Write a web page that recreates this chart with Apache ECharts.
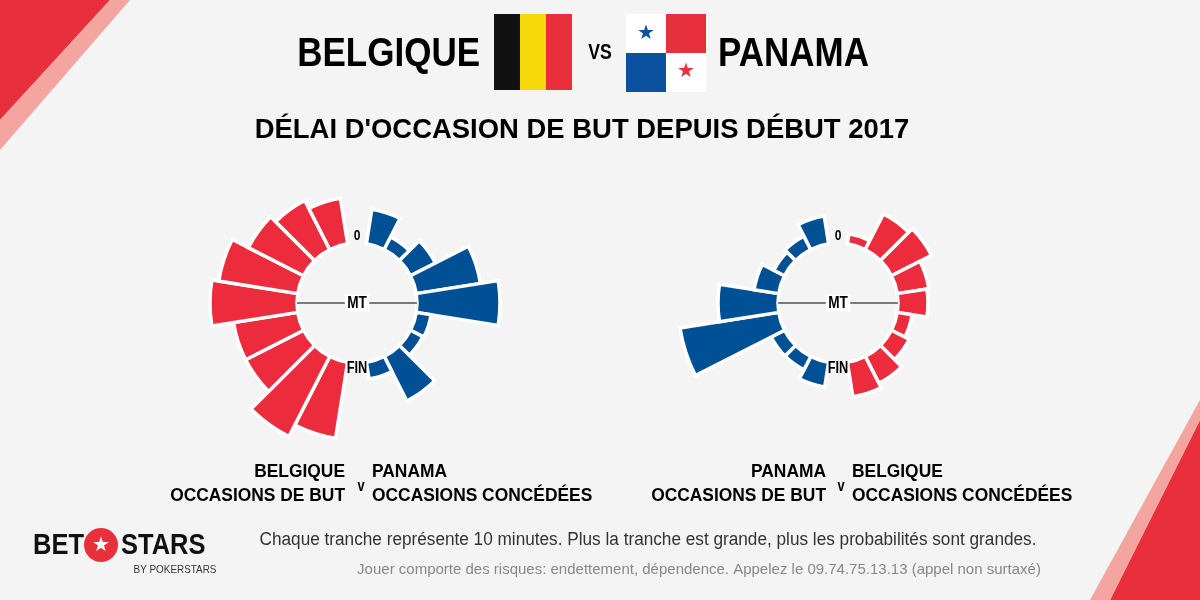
<!DOCTYPE html><html><head><meta charset="utf-8">
<script src="https://cdn.jsdelivr.net/npm/echarts@6/dist/echarts.min.js"></script>
<style>html,body{margin:0;padding:0}#c{width:1200px;height:600px}</style></head><body><div id="c"></div>
<script>
// slices of 10 minutes, from 0 to FIN; values = bar length beyond inner circle
const slices = ['0-10','10-20','20-30','30-40','40-50','50-60','60-70','70-80','80-90'];
const belOccasions   = [46, 55, 62, 80, 87, 65, 65, 90, 77];
const panConcedees   = [35, 14, 28, 65, 83, 15, 14, 50, 17];
const panOccasions   = [28, 15, 12, 25, 60, 100, 15, 15, 25];
const belConcedees   = [10, 40, 45, 32, 30, 15, 20, 30, 35];

const cats = [];
for (let i=0;i<20;i++) cats.push('c'+i);
function build(rightVals, leftVals){
  const right = [null].concat(rightVals, new Array(10).fill(null));
  const left = new Array(11).fill(null).concat(leftVals.slice().reverse());
  return [right,left];
}
const [L_right, L_left] = build(panConcedees, belOccasions);
const [R_right, R_left] = build(belConcedees, panOccasions);
const RED='#ec2c3d', BLUE='#005096';
const chart = echarts.init(document.getElementById('c'));
const polar = (cx)=>({center:[cx,303], radius:[60,210]});
const ang = (i)=>({polarIndex:i,type:'category',data:cats,startAngle:99,clockwise:true,axisLine:{show:false},axisTick:{show:false},axisLabel:{show:false},splitLine:{show:false}});
const rad = (i)=>({polarIndex:i,min:0,max:150,axisLine:{show:false},axisTick:{show:false},axisLabel:{show:false},splitLine:{show:false}});
const bar=(pi,data,color)=>({type:'bar',coordinateSystem:'polar',polarIndex:pi,data,stack:'s'+pi,barCategoryGap:'0%',itemStyle:{color,borderColor:'#fff',borderWidth:3.5},silent:true});
const F='"Liberation Sans"';
function txt(x,y,text,size,align,opts={}){
  return {type:'text',x,y,z:100,scaleX:opts.sx||0.8,style:Object.assign({text,fill:'#000',font:(opts.bold===false?'':'bold ')+size+'px '+F,align,verticalAlign:'middle'},opts.style||{})};
}
function hub(cx){
  return [
    {type:'line',z:100,shape:{x1:cx-60,y1:303,x2:cx+60,y2:303},style:{stroke:'#000',lineWidth:1.2}},
    txt(cx,303,'MT',17,'center',{style:{backgroundColor:'#fff',padding:[0,3]}}),
    txt(cx,236,'0',15,'center'),
    txt(cx,369,'FIN',16,'center')
  ];
}
chart.setOption({
  backgroundColor:'#f4f4f5',
  animation:false,
  polar:[polar(357),polar(838)],
  angleAxis:[ang(0),ang(1)],
  radiusAxis:[rad(0),rad(1)],
  series:[bar(0,L_right,BLUE),bar(0,L_left,RED),bar(1,R_right,RED),bar(1,R_left,BLUE)],
  graphic:[
    {type:'polygon',z:-1,shape:{points:[[0,0],[110,0],[0,120]]},style:{fill:'#e8303c'}},
    {type:'polygon',z:-1,shape:{points:[[110,0],[130,0],[0,150],[0,120]]},style:{fill:'#f4a5a0'}},
    {type:'polygon',z:-1,shape:{points:[[1200,420],[1200,600],[1110,600]]},style:{fill:'#e8303c'}},
    {type:'polygon',z:-1,shape:{points:[[1200,400],[1200,420],[1110,600],[1090,600]]},style:{fill:'#f4a5a0'}},
    txt(480,55,'BELGIQUE',40,'right',{sx:0.875}),
    {type:'rect',shape:{x:494,y:14,width:26,height:76},style:{fill:'#111'}},
    {type:'rect',shape:{x:520,y:14,width:26,height:76},style:{fill:'#f5d90a'}},
    {type:'rect',shape:{x:546,y:14,width:26,height:76},style:{fill:'#e8303c'}},
    txt(600,53,'VS',22,'center'),
    {type:'rect',shape:{x:626,y:14,width:80,height:78},style:{fill:'#fff'}},
    {type:'rect',shape:{x:666,y:14,width:40,height:39},style:{fill:'#e8303c'}},
    {type:'rect',shape:{x:626,y:53,width:40,height:39},style:{fill:'#0a52a0'}},
    {type:'text',x:646,y:34,style:{text:'★',fill:'#0a52a0',font:'20px "DejaVu Sans"',align:'center',verticalAlign:'middle'}},
    {type:'text',x:686,y:72,style:{text:'★',fill:'#e8303c',font:'20px "DejaVu Sans"',align:'center',verticalAlign:'middle'}},
    txt(718,55,'PANAMA',40,'left',{sx:0.875}),
    txt(582,130,"DÉLAI D'OCCASION DE BUT DEPUIS DÉBUT 2017",28,'center',{sx:0.98}),
    ...hub(357),...hub(838),
    txt(345,484,'BELGIQUE\nOCCASIONS DE BUT',19,'right',{sx:0.915,style:{lineHeight:24}}),
    txt(361,487,'v',16,'center'),
    txt(372,484,'PANAMA\nOCCASIONS CONCÉDÉES',19,'left',{sx:0.915,style:{lineHeight:24}}),
    txt(826,484,'PANAMA\nOCCASIONS DE BUT',19,'right',{sx:0.915,style:{lineHeight:24}}),
    txt(841,487,'v',16,'center'),
    txt(852,484,'BELGIQUE\nOCCASIONS CONCÉDÉES',19,'left',{sx:0.915,style:{lineHeight:24}}),
    txt(648,540,'Chaque tranche représente 10 minutes. Plus la tranche est grande, plus les probabilités sont grandes.',18,'center',{bold:false,sx:0.955,style:{fill:'#333'}}),
    txt(699,570,'Jouer comporte des risques: endettement, dépendence. Appelez le 09.74.75.13.13 (appel non surtaxé)',15,'center',{bold:false,sx:1.0,style:{fill:'#888'}}),
    txt(33,546,'BET',30,'left',{sx:0.85,style:{fill:'#111'}}),
    {type:'circle',shape:{cx:101,cy:545,r:17},style:{fill:'#e8303c'}},
    {type:'text',x:101,y:546,style:{text:'★',fill:'#fff',font:'20px "DejaVu Sans"',align:'center',verticalAlign:'middle'}},
    txt(121,546,'STARS',30,'left',{sx:0.85,style:{fill:'#111'}}),
    txt(175,570,'BY POKERSTARS',11,'center',{bold:false,sx:0.9,style:{fill:'#333'}})
  ]
});
</script></body></html>
